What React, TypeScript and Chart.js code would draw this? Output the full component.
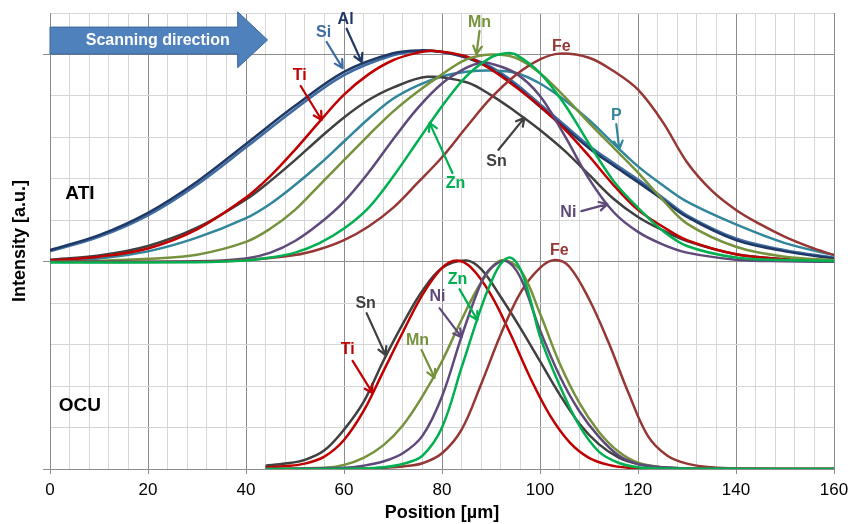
import React, { useEffect, useRef } from 'react';
import { Chart, registerables } from 'chart.js';

Chart.register(...registerables);

const FONT = "'Liberation Sans', Arial, Helvetica, sans-serif";

// x tick labels (every 20 µm); minor grid every 4 µm
const xTickLabels = ['0', '20', '40', '60', '80', '100', '120', '140', '160'];

// ---------------- ATI (upper profiles, baseline 5) ----------------
const atiSiX = [0, 10, 20, 30, 40, 50, 60, 70, 76, 80, 85, 90, 95, 100, 105, 110, 115, 120, 125, 130, 140, 150, 160];
const atiSiY = [5.25, 5.6, 6.12, 6.86, 7.76, 8.68, 9.5, 9.98, 10.08, 10.06, 9.94, 9.7, 9.3, 8.8, 8.3, 7.8, 7.38, 6.98, 6.55, 6.12, 5.56, 5.28, 5.1];

const atiAlX = [0, 10, 20, 30, 40, 50, 60, 70, 76, 80, 85, 90, 95, 100, 105, 110, 115, 120, 125, 130, 140, 150, 160];
const atiAlY = [5.28, 5.64, 6.18, 6.93, 7.84, 8.76, 9.58, 10.03, 10.1, 10.06, 9.92, 9.66, 9.24, 8.74, 8.24, 7.74, 7.32, 6.92, 6.5, 6.08, 5.52, 5.25, 5.08];

const atiTiX = [0, 10, 20, 30, 40, 45, 50, 55, 60, 65, 70, 75, 78, 85, 90, 95, 100, 105, 110, 115, 120, 125, 130, 140, 150, 160];
const atiTiY = [5.03, 5.12, 5.32, 5.78, 6.55, 7.07, 7.7, 8.38, 9.03, 9.52, 9.86, 10.04, 10.09, 9.95, 9.64, 9.22, 8.75, 8.2, 7.55, 6.85, 6.25, 5.85, 5.52, 5.18, 5.06, 5.0];

const atiSnX = [0, 10, 20, 30, 40, 45, 50, 55, 60, 65, 70, 77, 85, 90, 95, 100, 105, 110, 115, 120, 125, 130, 140, 150, 160];
const atiSnY = [5.05, 5.15, 5.38, 5.82, 6.5, 6.95, 7.45, 7.98, 8.48, 8.9, 9.2, 9.46, 9.33, 9.02, 8.62, 8.18, 7.68, 7.1, 6.52, 6.08, 5.76, 5.5, 5.18, 5.06, 5.0];

const atiPX = [0, 10, 20, 30, 40, 45, 50, 55, 60, 65, 70, 75, 80, 85, 90, 95, 100, 105, 110, 115, 120, 125, 130, 140, 150, 160];
const atiPY = [5.0, 5.08, 5.25, 5.58, 6.05, 6.4, 6.85, 7.35, 7.9, 8.45, 8.93, 9.25, 9.47, 9.58, 9.61, 9.56, 9.3, 8.9, 8.42, 7.85, 7.3, 6.85, 6.45, 5.9, 5.45, 5.16];

const atiMnX = [0, 10, 20, 30, 40, 45, 50, 55, 60, 65, 70, 75, 80, 85, 90, 95, 100, 105, 110, 115, 120, 125, 130, 140, 150, 160];
const atiMnY = [5.0, 5.02, 5.07, 5.17, 5.48, 5.8, 6.25, 6.85, 7.45, 8.05, 8.62, 9.1, 9.52, 9.88, 10.0, 9.92, 9.55, 8.98, 8.35, 7.75, 7.15, 6.5, 5.92, 5.36, 5.12, 5.04];

const atiNiX = [0, 30, 40, 45, 50, 55, 60, 65, 70, 75, 80, 85, 88, 90, 95, 100, 105, 110, 115, 120, 125, 130, 140, 150, 160];
const atiNiY = [5.0, 5.01, 5.08, 5.22, 5.5, 5.92, 6.45, 7.15, 7.95, 8.7, 9.3, 9.68, 9.8, 9.78, 9.55, 9.0, 8.05, 7.0, 6.2, 5.72, 5.42, 5.22, 5.05, 5.01, 5.0];

const atiZnX = [0, 30, 40, 45, 50, 55, 60, 65, 70, 75, 80, 85, 90, 93, 95, 100, 105, 110, 115, 120, 125, 130, 140, 150, 160];
const atiZnY = [4.98, 4.99, 5.03, 5.1, 5.22, 5.45, 5.8, 6.3, 7.05, 7.9, 8.75, 9.48, 9.93, 10.03, 10.0, 9.55, 8.8, 7.85, 6.95, 6.3, 5.75, 5.38, 5.1, 5.04, 5.02];

const atiFeX = [0, 30, 40, 50, 55, 60, 65, 70, 75, 80, 85, 90, 95, 100, 104, 110, 115, 120, 125, 130, 135, 140, 145, 150, 155, 160];
const atiFeY = [5.0, 5.0, 5.04, 5.16, 5.3, 5.52, 5.85, 6.3, 6.9, 7.52, 8.25, 8.95, 9.5, 9.88, 10.02, 9.92, 9.6, 9.15, 8.38, 7.4, 6.72, 6.25, 5.9, 5.6, 5.36, 5.16];

// ---------------- OCU (lower profiles, baseline 0) ----------------
const ocuSnX = [44, 48, 52, 56, 60, 64, 68, 72, 76, 80, 85, 88, 92, 96, 100, 104, 108, 112, 116, 120, 125, 130, 140, 160];
const ocuSnY = [0.08, 0.13, 0.22, 0.45, 0.95, 1.62, 2.6, 3.5, 4.3, 4.85, 5.03, 4.82, 4.15, 3.4, 2.6, 1.8, 1.1, 0.6, 0.28, 0.12, 0.04, 0.01, 0, 0];

const ocuTiX = [44, 48, 52, 56, 60, 64, 68, 72, 76, 80, 83, 86, 90, 94, 98, 102, 106, 110, 114, 118, 124, 130, 160];
const ocuTiY = [0.04, 0.07, 0.13, 0.3, 0.7, 1.4, 2.35, 3.3, 4.2, 4.85, 5.03, 4.85, 4.2, 3.25, 2.2, 1.3, 0.65, 0.27, 0.1, 0.03, 0.0, 0, 0];

const ocuMnX = [44, 56, 60, 64, 68, 72, 76, 80, 84, 88, 92, 96, 100, 104, 108, 112, 116, 120, 125, 130, 160];
const ocuMnY = [0, 0.03, 0.1, 0.27, 0.57, 1.05, 1.75, 2.6, 3.6, 4.5, 5.03, 4.8, 3.75, 2.55, 1.6, 0.9, 0.42, 0.15, 0.04, 0.01, 0];

const ocuNiX = [44, 60, 64, 68, 72, 76, 80, 84, 88, 90, 93, 96, 100, 104, 108, 112, 116, 120, 125, 130, 160];
const ocuNiY = [0, 0.03, 0.08, 0.18, 0.38, 0.8, 1.75, 3.2, 4.5, 4.85, 5.02, 4.62, 3.35, 2.25, 1.4, 0.78, 0.33, 0.12, 0.04, 0.01, 0];

const ocuZnX = [44, 64, 68, 72, 76, 80, 84, 88, 90, 92, 94, 96, 98, 100, 104, 108, 112, 116, 120, 125, 160];
const ocuZnY = [0, 0.01, 0.04, 0.12, 0.32, 1.0, 2.45, 3.9, 4.5, 4.95, 5.1, 4.82, 4.1, 3.2, 2.02, 1.05, 0.42, 0.15, 0.04, 0.01, 0];

const ocuFeX = [44, 64, 68, 72, 76, 80, 84, 88, 92, 96, 100, 103, 106, 110, 114, 118, 122, 126, 130, 135, 140, 160];
const ocuFeY = [0, 0.01, 0.03, 0.06, 0.14, 0.38, 0.95, 2.05, 3.25, 4.25, 4.85, 5.04, 4.88, 4.1, 3.05, 1.85, 0.8, 0.32, 0.13, 0.04, 0.01, 0];

const COLORS = {
  Si: '#3F6BA3',
  Al: '#1F3864',
  Ti: '#C00000',
  Sn: '#404040',
  P: '#31869B',
  Mn: '#76923C',
  Ni: '#5F497A',
  Zn: '#00B050',
  Fe: '#953735',
};

const pts = (xs: number[], ys: number[]) => xs.map((x, i) => ({ x, y: ys[i] }));

// Annotation labels (data coordinates)
const labels = [
  { t: 'Si', c: COLORS.Si, x: 55.85, y: 10.52 },
  { t: 'Al', c: COLORS.Al, x: 60.33, y: 10.83 },
  { t: 'Ti', c: COLORS.Ti, x: 50.96, y: 9.48 },
  { t: 'Mn', c: COLORS.Mn, x: 87.65, y: 10.78 },
  { t: 'Fe', c: COLORS.Fe, x: 104.36, y: 10.2 },
  { t: 'Sn', c: COLORS.Sn, x: 91.11, y: 7.41 },
  { t: 'Zn', c: COLORS.Zn, x: 82.76, y: 6.88 },
  { t: 'P', c: COLORS.P, x: 115.57, y: 8.52 },
  { t: 'Ni', c: COLORS.Ni, x: 105.79, y: 6.18 },
  { t: 'Fe', c: COLORS.Fe, x: 103.95, y: 5.28 },
  { t: 'Sn', c: COLORS.Sn, x: 64.41, y: 4.0 },
  { t: 'Ti', c: COLORS.Ti, x: 60.74, y: 2.87 },
  { t: 'Mn', c: COLORS.Mn, x: 75.01, y: 3.09 },
  { t: 'Ni', c: COLORS.Ni, x: 79.09, y: 4.15 },
  { t: 'Zn', c: COLORS.Zn, x: 83.16, y: 4.56 },
];

const arrows = [
  { c: COLORS.Si, x1: 56.46, y1: 10.3, x2: 59.72, y2: 9.67 },
  { c: COLORS.Al, x1: 60.54, y1: 10.62, x2: 63.6, y2: 9.82 },
  { c: COLORS.Ti, x1: 51.16, y1: 9.24, x2: 55.44, y2: 8.42 },
  { c: COLORS.Mn, x1: 87.65, y1: 10.57, x2: 87.04, y2: 10.01 },
  { c: COLORS.Sn, x1: 91.52, y1: 7.7, x2: 96.82, y2: 8.47 },
  { c: COLORS.Zn, x1: 82.14, y1: 7.14, x2: 77.46, y2: 8.35 },
  { c: COLORS.P, x1: 115.57, y1: 8.32, x2: 116.18, y2: 7.72 },
  { c: COLORS.Ni, x1: 108.44, y1: 6.22, x2: 113.74, y2: 6.39 },
  { c: COLORS.Sn, x1: 64.61, y1: 3.76, x2: 68.49, y2: 2.75 },
  { c: COLORS.Ti, x1: 61.76, y1: 2.61, x2: 65.84, y2: 1.83 },
  { c: COLORS.Mn, x1: 75.83, y1: 2.87, x2: 78.48, y2: 2.2 },
  { c: COLORS.Ni, x1: 79.49, y1: 3.88, x2: 83.98, y2: 3.18 },
  { c: COLORS.Zn, x1: 83.57, y1: 4.34, x2: 87.24, y2: 3.59 },
];

const groupLabels = [
  { t: 'ATI', x: 6.11, y: 6.63 },
  { t: 'OCU', x: 6.11, y: 1.52 },
];

const annotationPlugin = {
  id: 'annotations',
  afterDatasetsDraw(chart: any) {
    const { ctx } = chart;
    const xs = chart.scales.x;
    const ys = chart.scales.y;
    const px = (v: number) => xs.getPixelForValue(v);
    const py = (v: number) => ys.getPixelForValue(v);
    ctx.save();

    // Scanning direction arrow
    ctx.beginPath();
    ctx.moveTo(px(0), py(10.66));
    ctx.lineTo(px(38.3), py(10.66));
    ctx.lineTo(px(38.3), py(11.03));
    ctx.lineTo(px(44.4), py(10.35));
    ctx.lineTo(px(38.3), py(9.68));
    ctx.lineTo(px(38.3), py(10.01));
    ctx.lineTo(px(0), py(10.01));
    ctx.closePath();
    ctx.fillStyle = '#4F81BD';
    ctx.fill();
    ctx.strokeStyle = '#3A6699';
    ctx.lineWidth = 1;
    ctx.stroke();
    ctx.fillStyle = '#FFFFFF';
    ctx.font = `bold 16px ${FONT}`;
    ctx.textAlign = 'center';
    ctx.textBaseline = 'middle';
    ctx.fillText('Scanning direction', px(22.0), py(10.33));

    // arrows
    ctx.lineCap = 'round';
    ctx.lineJoin = 'round';
    for (const a of arrows) {
      const x1 = px(a.x1), y1 = py(a.y1), x2 = px(a.x2), y2 = py(a.y2);
      const ang = Math.atan2(y2 - y1, x2 - x1);
      const hl = 9, ha = 0.5;
      ctx.strokeStyle = a.c;
      ctx.lineWidth = 2.2;
      ctx.beginPath();
      ctx.moveTo(x1, y1);
      ctx.lineTo(x2, y2);
      ctx.moveTo(x2 - hl * Math.cos(ang - ha), y2 - hl * Math.sin(ang - ha));
      ctx.lineTo(x2, y2);
      ctx.lineTo(x2 - hl * Math.cos(ang + ha), y2 - hl * Math.sin(ang + ha));
      ctx.stroke();
    }

    // element labels
    ctx.font = `bold 16px ${FONT}`;
    for (const l of labels) {
      ctx.fillStyle = l.c;
      ctx.fillText(l.t, px(l.x), py(l.y));
    }

    // group labels
    ctx.font = `bold 19px ${FONT}`;
    ctx.fillStyle = '#000000';
    for (const g of groupLabels) {
      ctx.fillText(g.t, px(g.x), py(g.y));
    }
    ctx.restore();
  },
};

export default function App() {
  const canvasRef = useRef<HTMLCanvasElement | null>(null);

  useEffect(() => {
    const canvas = canvasRef.current;
    if (!canvas) return;

    const mk = (label: string, xs: number[], ys: number[], color: string) => ({
      label,
      data: pts(xs, ys),
      borderColor: color,
      backgroundColor: color,
      borderWidth: 2.5,
      pointRadius: 0,
      fill: false,
      tension: 0.35,
    });

    // first dataset is drawn on top
    const datasets = [
      mk('OCU Zn', ocuZnX, ocuZnY, COLORS.Zn),
      mk('OCU Ni', ocuNiX, ocuNiY, COLORS.Ni),
      mk('OCU Mn', ocuMnX, ocuMnY, COLORS.Mn),
      mk('OCU Fe', ocuFeX, ocuFeY, COLORS.Fe),
      mk('OCU Ti', ocuTiX, ocuTiY, COLORS.Ti),
      mk('OCU Sn', ocuSnX, ocuSnY, COLORS.Sn),
      mk('ATI Zn', atiZnX, atiZnY, COLORS.Zn),
      mk('ATI Fe', atiFeX, atiFeY, COLORS.Fe),
      mk('ATI Ni', atiNiX, atiNiY, COLORS.Ni),
      mk('ATI Mn', atiMnX, atiMnY, COLORS.Mn),
      mk('ATI Ti', atiTiX, atiTiY, COLORS.Ti),
      mk('ATI Sn', atiSnX, atiSnY, COLORS.Sn),
      mk('ATI P', atiPX, atiPY, COLORS.P),
      mk('ATI Al', atiAlX, atiAlY, COLORS.Al),
      mk('ATI Si', atiSiX, atiSiY, COLORS.Si),
    ];

    const chart = new Chart(canvas, {
      type: 'line',
      data: { datasets },
      plugins: [annotationPlugin],
      options: {
        animation: false,
        responsive: false,
        devicePixelRatio: 1,
        layout: { padding: { left: 0, right: 16, top: 13, bottom: 0 } },
        plugins: {
          legend: { display: false },
          tooltip: { enabled: false },
        },
        scales: {
          x: {
            type: 'linear',
            min: 0,
            max: 160,
            afterFit: (s: any) => {
              s.height = 55;
              s.paddingLeft = 0;
              s.paddingRight = 0;
            },
            border: { display: true, color: '#8C8C8C', width: 1 },
            grid: {
              color: (c: any) => (c.tick && c.tick.value % 20 === 0 ? '#8C8C8C' : '#D6D6D6'),
              tickColor: (c: any) => (c.tick && c.tick.value % 20 === 0 ? '#8C8C8C' : 'rgba(0,0,0,0)'),
              tickLength: 5,
              lineWidth: 1,
            },
            ticks: {
              stepSize: 4,
              autoSkip: false,
              maxRotation: 0,
              padding: 6,
              color: '#000000',
              font: { family: FONT, size: 17 },
              callback: (v: any) => {
                const s = String(v);
                return xTickLabels.includes(s) ? s : '';
              },
            },
            title: {
              display: true,
              text: 'Position [µm]',
              color: '#000000',
              font: { family: FONT, size: 18, weight: 'bold' },
              padding: { top: 0, bottom: 0 },
            },
          },
          y: {
            type: 'linear',
            min: 0,
            max: 11,
            afterFit: (s: any) => {
              s.width = 50;
              s.paddingTop = 0;
              s.paddingBottom = 0;
            },
            border: { display: true, color: '#8C8C8C', width: 1 },
            grid: {
              color: (c: any) => (c.tick && c.tick.value % 5 === 0 ? '#8C8C8C' : '#D6D6D6'),
              tickColor: (c: any) => (c.tick && c.tick.value % 5 === 0 ? '#8C8C8C' : 'rgba(0,0,0,0)'),
              tickLength: 7,
              lineWidth: 1,
            },
            ticks: {
              stepSize: 1,
              display: false,
            },
            title: {
              display: true,
              text: 'Intensity [a.u.]',
              color: '#000000',
              font: { family: FONT, size: 18, weight: 'bold' },
              padding: { top: 9, bottom: 0 },
            },
          },
        },
      },
    } as any);

    return () => {
      chart.destroy();
    };
  }, []);

  return (
    <div style={{ position: 'absolute', left: 0, top: 0, width: 850, height: 524, background: '#FFFFFF' }}>
      <canvas ref={canvasRef} width={850} height={524} style={{ display: 'block' }} />
    </div>
  );
}
